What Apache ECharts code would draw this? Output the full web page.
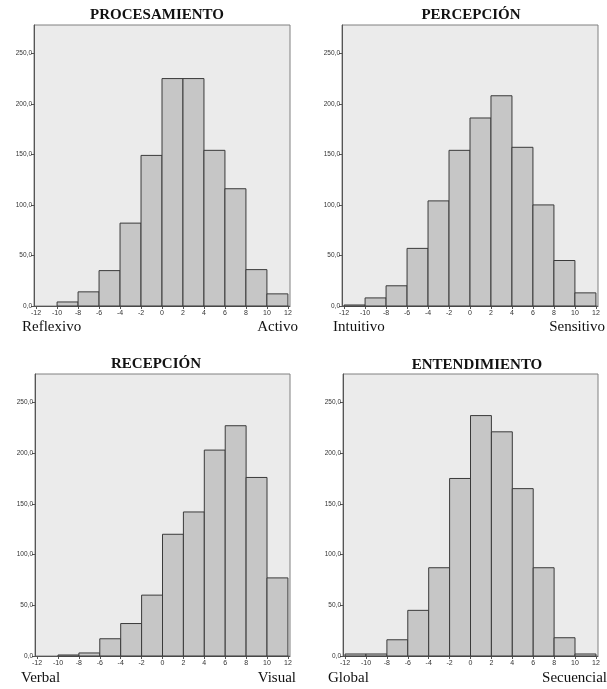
<!DOCTYPE html>
<html>
<head>
<meta charset="utf-8">
<script src="https://cdn.jsdelivr.net/npm/echarts@6/dist/echarts.min.js"></script>
<style>
html,body{margin:0;padding:0;background:#fff;}
#c{width:607px;height:689px;}
</style>
</head>
<body>
<div id="c"></div>
<script>
// ---- data ----
const binCenters = [-11, -9, -7, -5, -3, -1, 1, 3, 5, 7, 9, 11];
const binWidth = 2;
const procesamiento = [0, 4, 14, 35, 82, 149, 225, 225, 154, 116, 36, 12];
const percepcion   = [1, 8, 20, 57, 104, 154, 186, 208, 157, 100, 45, 13];
const recepcion    = [0, 1, 3, 17, 32, 60, 120, 142, 203, 227, 176, 77];
const entendimiento = [2, 2, 16, 45, 87, 175, 237, 221, 165, 87, 18, 2];
const xTickValues = [-12, -10, -8, -6, -4, -2, 0, 2, 4, 6, 8, 10, 12];
const yTickValues = [0, 50, 100, 150, 200, 250];
const titles = ['PROCESAMIENTO', 'PERCEPCIÓN', 'RECEPCIÓN', 'ENTENDIMIENTO'];
const leftLabels = ['Reflexivo', 'Intuitivo', 'Verbal', 'Global'];
const rightLabels = ['Activo', 'Sensitivo', 'Visual', 'Secuencial'];
const seriesValues = [procesamiento, percepcion, recepcion, entendimiento];

// ---- layout ----
const panels = [
  {left: 34, top: 25, width: 256, height: 281, titleX: 157, titleY: 15, labY: 327, lx: 22, rx: 298},
  {left: 342, top: 25, width: 256, height: 281, titleX: 471, titleY: 15, labY: 327, lx: 333, rx: 605},
  {left: 35, top: 374, width: 255, height: 282, titleX: 156, titleY: 364, labY: 678, lx: 21, rx: 296},
  {left: 343, top: 374, width: 255, height: 282, titleX: 477, titleY: 365, labY: 678, lx: 328, rx: 607}
];

const chart = echarts.init(document.getElementById('c'), null, {renderer: 'canvas'});

const grids = [], xAxes = [], yAxes = [], series = [], graphics = [];
panels.forEach((p, i) => {
  grids.push({
    left: p.left, top: p.top, width: p.width, height: p.height,
    show: true, backgroundColor: '#ebebeb', borderColor: '#808080', borderWidth: 1,
    containLabel: false
  });
  xAxes.push({
    type: 'value', gridIndex: i, min: -12.2, max: 12.2,
    axisLine: {show: true, onZero: false, lineStyle: {color: '#555', width: 1}},
    axisTick: {show: true, customValues: xTickValues, length: 3, lineStyle: {color: '#555'}},
    axisLabel: {show: true, customValues: xTickValues, fontSize: 7, color: '#333',
      fontFamily: 'Liberation Sans', margin: 4},
    splitLine: {show: false}
  });
  yAxes.push({
    type: 'value', gridIndex: i, min: 0, max: 278,
    axisLine: {show: true, onZero: false, lineStyle: {color: '#555', width: 1}},
    axisTick: {show: true, customValues: yTickValues, length: 3, lineStyle: {color: '#555'}},
    axisLabel: {show: true, customValues: yTickValues, fontSize: 6.5, color: '#333',
      fontFamily: 'Liberation Sans', margin: 2,
      formatter: v => v.toFixed(1).replace('.', ',')},
    splitLine: {show: false}
  });
  series.push({
    type: 'custom', xAxisIndex: i, yAxisIndex: i,
    data: binCenters.map((c, k) => [c, seriesValues[i][k]]),
    renderItem: function (params, api) {
      const x = api.value(0), y = api.value(1);
      if (!y) return null;
      const p0 = api.coord([x - binWidth / 2, 0]);
      const p1 = api.coord([x + binWidth / 2, y]);
      return {
        type: 'rect',
        shape: {x: p0[0], y: p1[1], width: p1[0] - p0[0], height: p0[1] - p1[1]},
        style: {fill: '#c6c6c6', stroke: '#3a3a3a', lineWidth: 1}
      };
    },
    silent: true, animation: false
  });
  graphics.push({
    type: 'text', x: p.titleX, y: p.titleY,
    style: {text: titles[i], font: 'bold 15px "Liberation Serif"', fill: '#111',
      textAlign: 'center', textVerticalAlign: 'middle'}
  });
  graphics.push({
    type: 'text', x: p.lx, y: p.labY,
    style: {text: leftLabels[i], font: '15px "Liberation Serif"', fill: '#111',
      textAlign: 'left', textVerticalAlign: 'middle'}
  });
  graphics.push({
    type: 'text', x: p.rx, y: p.labY,
    style: {text: rightLabels[i], font: '15px "Liberation Serif"', fill: '#111',
      textAlign: 'right', textVerticalAlign: 'middle'}
  });
});

chart.setOption({
  animation: false,
  grid: grids,
  xAxis: xAxes,
  yAxis: yAxes,
  series: series,
  graphic: graphics
});
</script>
</body>
</html>
